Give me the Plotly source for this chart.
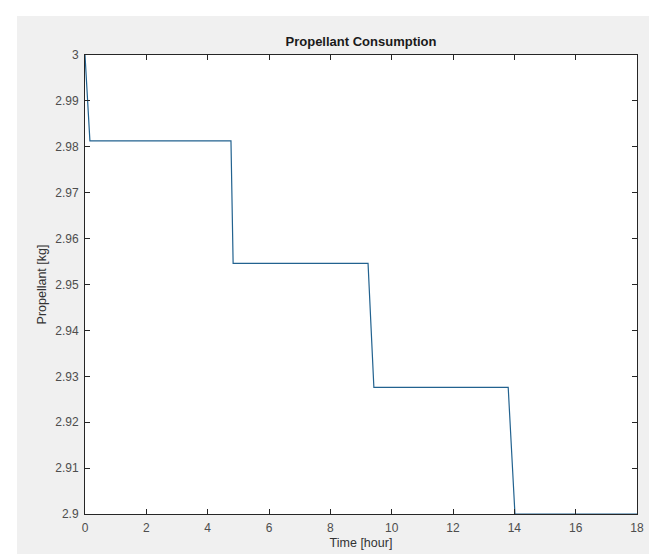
import plotly.graph_objects as go

# Data
time_hr = [0, 0.16, 4.76, 4.83, 9.23, 9.42, 13.8, 14.02, 18]
propellant_kg = [3.0, 2.9813, 2.9813, 2.9546, 2.9546, 2.9276, 2.9276, 2.900, 2.900]

x_ticks = [0, 2, 4, 6, 8, 10, 12, 14, 16, 18]
y_ticks = [2.90, 2.91, 2.92, 2.93, 2.94, 2.95, 2.96, 2.97, 2.98, 2.99, 3.00]
y_tick_labels = ["2.9", "2.91", "2.92", "2.93", "2.94", "2.95", "2.96", "2.97", "2.98", "2.99", "3"]

W, H = 657, 554
L, R, T, B = 77, 629, 47, 506

fig = go.Figure()
fig.add_trace(go.Scatter(
    x=time_hr, y=propellant_kg, mode="lines",
    line=dict(color="#22628f", width=1.2),
    showlegend=False, hoverinfo="x+y",
))

axis_common = dict(
    showgrid=False, zeroline=False, showline=True, linecolor="#262626", linewidth=1,
    mirror="ticks", ticks="inside", ticklen=5, tickcolor="#262626", tickwidth=1,
    tickfont=dict(family="Liberation Sans, Arial, sans-serif", size=12, color="#4d4d4d"),
)

fig.update_xaxes(
    range=[0, 18], tickvals=x_ticks, ticktext=[str(v) for v in x_ticks],
    ticklabelstandoff=3,
    title=dict(text="Time [hour]", standoff=3,
               font=dict(family="Liberation Sans, Arial, sans-serif", size=12.5, color="#333333")),
    **axis_common,
)
fig.update_yaxes(
    range=[2.9, 3.0], tickvals=y_ticks, ticktext=y_tick_labels,
    ticklabelstandoff=3,
    title=dict(text="Propellant [kg]", standoff=5,
               font=dict(family="Liberation Sans, Arial, sans-serif", size=12.5, color="#333333")),
    **axis_common,
)

pw, ph = R - L, B - T
fig.update_layout(
    width=W, height=H,
    margin=dict(l=L, r=W - R, t=T, b=H - B, pad=0),
    paper_bgcolor="#f0f0f0", plot_bgcolor="#ffffff",
    title=dict(text="<b>Propellant Consumption</b>", x=(L + R) / 2 / W, xanchor="center",
               y=1 - 33 / H, yanchor="middle",
               font=dict(family="Liberation Sans, Arial, sans-serif", size=13, color="#1a1a1a")),
    shapes=[
        dict(type="rect", xref="paper", yref="paper", x0=-1, x1=2,
             y0=(B - 8) / ph, y1=3, fillcolor="#ffffff", line=dict(width=0), layer="above"),
        dict(type="rect", xref="paper", yref="paper", x0=-1, x1=(9 - L) / pw,
             y0=-1, y1=3, fillcolor="#ffffff", line=dict(width=0), layer="above"),
    ],
)

fig.write_html("out.html")
